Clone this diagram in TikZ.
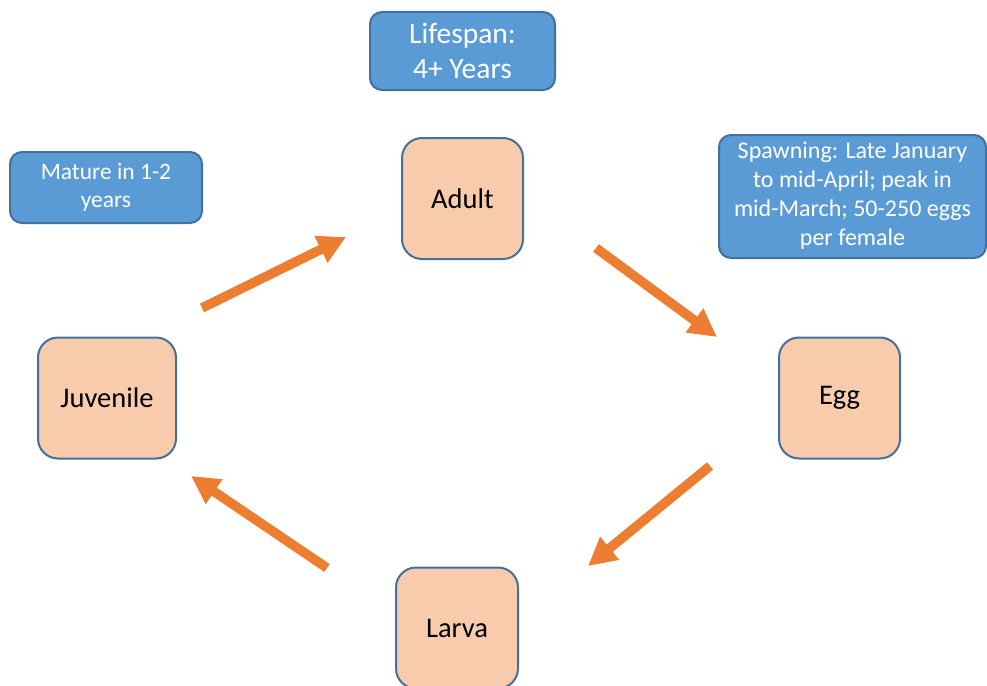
\documentclass[tikz,border=0pt]{standalone}
\usepackage{fontspec}
\setmainfont{Carlito}
\usetikzlibrary{arrows.meta}
\definecolor{peach}{HTML}{F8CBAD}
\definecolor{edgeblue}{HTML}{41719C}
\definecolor{boxblue}{HTML}{5B9BD5}
\definecolor{arrorange}{HTML}{ED7D31}
\tikzset{
  stage/.style={draw=edgeblue, line width=2pt, fill=peach, rounded corners=20pt,
    minimum height=121pt, inner sep=0pt, font=\fontsize{28.5}{33}\selectfont, text=black},
  info/.style={draw=edgeblue, line width=2pt, fill=boxblue, rounded corners=12pt,
    inner sep=0pt, align=center, text=white},
  flow/.style={draw=arrorange, line width=9.5pt, -{Triangle[length=28pt,width=28pt]}}
}
\begin{document}
\begin{tikzpicture}[x=1pt,y=-1pt]
\useasboundingbox (0,0) rectangle (987,685);
\clip (0,0) rectangle (987,685);
% stages
\node[stage, minimum width=121pt] (adult) at (462.5,198.5) {Adult};
\node[stage, minimum width=121pt] (egg) at (839.5,398) {Egg};
\node[stage, minimum width=138pt] (juv) at (107,398) {Juvenile};
\node[stage, minimum width=122pt] (larva) at (457,628) {Larva};
% info boxes
\node[info, minimum width=185pt, minimum height=78pt, font=\fontsize{29.5}{35.5}\selectfont] (life) at (462.5,51) {Lifespan:\\4+ Years};
\node[info, minimum width=192pt, minimum height=71pt, font=\fontsize{23.5}{28}\selectfont] (mature) at (106,187.5) {Mature in 1-2\\years};
\node[info, minimum width=267pt, minimum height=123pt, font=\fontsize{24}{29}\selectfont] (spawn) at (852.5,196.5) {\raisebox{-3pt}{\begin{tabular}{@{}c@{}}Spawning: Late January\\to mid-April; peak in\\mid-March; 50-250 eggs\\per female\end{tabular}}};
% arrow ends
\coordinate (j1) at (202,308);
\coordinate (a1) at (346,237);
\coordinate (a2) at (596,248);
\coordinate (e1) at (717,337);
\coordinate (e2) at (710,466);
\coordinate (l1) at (588,566);
\coordinate (l2) at (327,568);
\coordinate (j2) at (191,476);
\draw[flow] (j1) -- (a1);
\draw[flow] (a2) -- (e1);
\draw[flow] (e2) -- (l1);
\draw[flow] (l2) -- (j2);
\end{tikzpicture}
\end{document}
